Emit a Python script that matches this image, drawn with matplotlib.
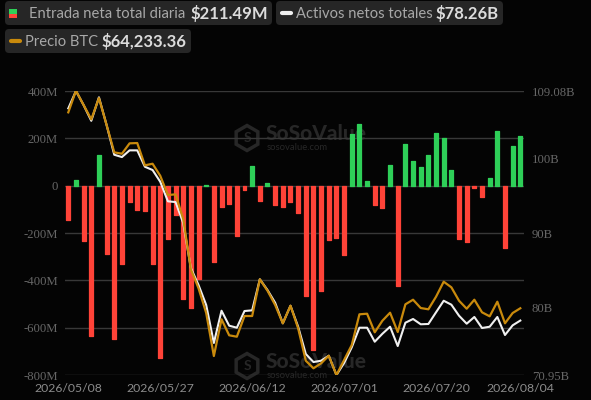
import matplotlib
matplotlib.use("Agg")
import matplotlib.pyplot as plt
from matplotlib.patches import FancyBboxPatch, RegularPolygon, Rectangle

net_inflow_m = [-143, 26, -233, -635, 130, -290, -646, -329, -68, -101, -105, -332,
                -730, -226, -123, -480, -518, -395, 2, -324, -90, -78, -214, -18,
                85, -65, 10, -82, -90, -69, -114, -468, -696, -443, -230, -221,
                -293, 220, 262, 20, -83, -95, 89, -424, 178, 106, 78, 131,
                224, 202, 68, -225, -239, -8, -47, 31, 232, -264, 168, 211.49]

net_assets_b = [106.75, 109.08, 107.19, 105.08, 108.23, 104.51, 100.52, 100.21, 101.11, 101.11,
                98.91, 98.47, 96.90, 94.27, 94.17, 91.35, 85.31, 83.03, 80.35, 75.25,
                79.58, 77.57, 77.30, 79.54, 79.63, 83.80, 82.36, 80.65, 77.89, 80.25,
                77.43, 73.77, 72.69, 72.87, 73.54, 70.95, 72.56, 74.67, 77.30, 77.30,
                75.42, 76.49, 77.43, 74.84, 77.97, 78.47, 77.76, 77.80, 79.37, 80.92,
                80.39, 78.91, 77.84, 78.74, 77.26, 77.43, 78.74, 76.32, 77.62, 78.26]

btc_price = [81066, 82921, 81693, 80465, 82294, 79975, 77630, 77510, 78403, 78429,
             76513, 76651, 75620, 73962, 74022, 71900, 67580, 65948, 63826, 60132,
             63285, 61910, 61790, 63568, 63568, 66721, 65741, 64513, 62941, 64453,
             62512, 59728, 59076, 59505, 60158, 58500, 59789, 61077, 63714, 63766,
             62168, 63164, 63852, 62194, 64573, 64968, 64255, 64144, 65226, 66514,
             66033, 64882, 64195, 64968, 63886, 63542, 64796, 62941, 63826, 64233.36]

x_tick_pos = [0, 12, 24, 36, 48, 59]
x_tick_labels = ["2026/05/08", "2026/05/27", "2026/06/12", "2026/07/01", "2026/07/20", "2026/08/04"]
left_ticks = [400, 200, 0, -200, -400, -600, -800]
left_labels = ["400M", "200M", "0", "-200M", "-400M", "-600M", "-800M"]
right_ticks = [109.08, 100, 90, 80, 70.95]
right_labels = ["109.08B", "100B", "90B", "80B", "70.95B"]

BG = "#040404"
GREEN = "#2ecf58"
RED = "#ff4338"
GOLD = "#c98a0c"
WHITE = "#f0f0f0"
GRID = "#383838"
W, H = 591, 400

fig = plt.figure(figsize=(W / 100, H / 100), dpi=100, facecolor=BG)

# Overlay for watermarks and legend chips, in pixel coordinates
bgax = fig.add_axes([0, 0, 1, 1], zorder=0)
bgax.set_xlim(0, W); bgax.set_ylim(H, 0); bgax.axis("off")

ax = fig.add_axes([65 / W, (H - 375) / H, (524.3 - 65) / W, 284 / H], zorder=1)
ax.patch.set_alpha(0)
ax.set_xlim(-0.43, 59.52)
ax.set_ylim(-800, 400)
for s in ax.spines.values():
    s.set_visible(False)
ax.set_yticks(left_ticks, left_labels)
ax.tick_params(axis="y", length=0, pad=5, labelsize=9.2, labelcolor="#666666")
for t in ax.get_yticklabels():
    t.set_family("Liberation Serif")
ax.set_xticks(x_tick_pos, x_tick_labels)
ax.tick_params(axis="x", length=0, pad=5.5, labelsize=8.8, labelcolor="#8c8c8c")
for t in ax.get_xticklabels():
    t.set_family("Lato")
ax.yaxis.grid(True, color=GRID, lw=1)
ax.set_axisbelow(True)

colors = [GREEN if v >= 0 else RED for v in net_inflow_m]
ax.bar(range(len(net_inflow_m)), net_inflow_m, width=0.52, color=colors, edgecolor=colors,
       linewidth=0.9, joinstyle="round", zorder=2)

axr = ax.twinx()
axr.patch.set_alpha(0)
axr.set_ylim(70.95, 109.08)
for s in axr.spines.values():
    s.set_visible(False)
axr.set_yticks(right_ticks, right_labels)
axr.tick_params(axis="y", length=0, pad=5.5, labelsize=9.2, labelcolor="#666666")
for t in axr.get_yticklabels():
    t.set_family("Liberation Serif")
axr.plot(range(len(net_assets_b)), net_assets_b, color=WHITE, lw=1.5, zorder=3,
         solid_joinstyle="round")

axp = ax.twinx()
axp.patch.set_alpha(0)
axp.set_ylim(58500, 82900)
axp.axis("off")
axp.plot(range(len(btc_price)), btc_price, color=GOLD, lw=1.6, zorder=4,
         solid_joinstyle="round")

# Watermarks
WM = "#272727"
for cy in (138, 366):
    bgax.add_patch(RegularPolygon((247, cy), 6, radius=12.5, fill=False, ec=WM, lw=2.5))
    bgax.text(247, cy, "S", color=WM, ha="center", va="center", fontsize=10,
              family="Lato", weight="bold")
    bgax.text(266, cy - 4, "SoSoValue", color=WM, ha="left", va="center", fontsize=15,
              family="Lato", weight="black")
    bgax.text(267, cy + 9, "sosovalue.com", color=WM, ha="left", va="center", fontsize=6.8,
              family="Lato")

# Legend chips
def chip(x0, y0, x1, y1):
    bgax.add_patch(FancyBboxPatch((x0 + 3, y0 + 3), x1 - x0 - 6, y1 - y0 - 6,
                                  boxstyle="round,pad=3,rounding_size=4", fc="#262626", ec="none"))

def legend_text(x, y, label, value, vx):
    bgax.text(x, y, label, color="#a8a8a8", fontsize=10.6, family="Lato", va="center", ha="left")
    bgax.text(vx, y, value, color="#dcdcdc", fontsize=12, family="Lato", weight="bold",
              va="center", ha="left")

chip(5, 1, 272, 25)
bgax.add_patch(Rectangle((9, 9), 8, 4.5, fc=GREEN, ec="none"))
bgax.add_patch(Rectangle((9, 13.5), 8, 4, fc=RED, ec="none"))
legend_text(29, 13.5, "Entrada neta total diaria", "$211.49M", 190.5)

chip(276, 1, 503, 25)
bgax.plot([282, 291], [13, 13], color=WHITE, lw=3, solid_capstyle="round")
legend_text(296.5, 13.5, "Activos netos totales", "$78.26B", 436)

chip(5, 29, 191, 53)
bgax.plot([11, 20], [41, 41], color=GOLD, lw=3, solid_capstyle="round")
legend_text(25, 41.5, "Precio BTC", "$64,233.36", 101)

fig.savefig("out.png", dpi=100, facecolor=BG)
